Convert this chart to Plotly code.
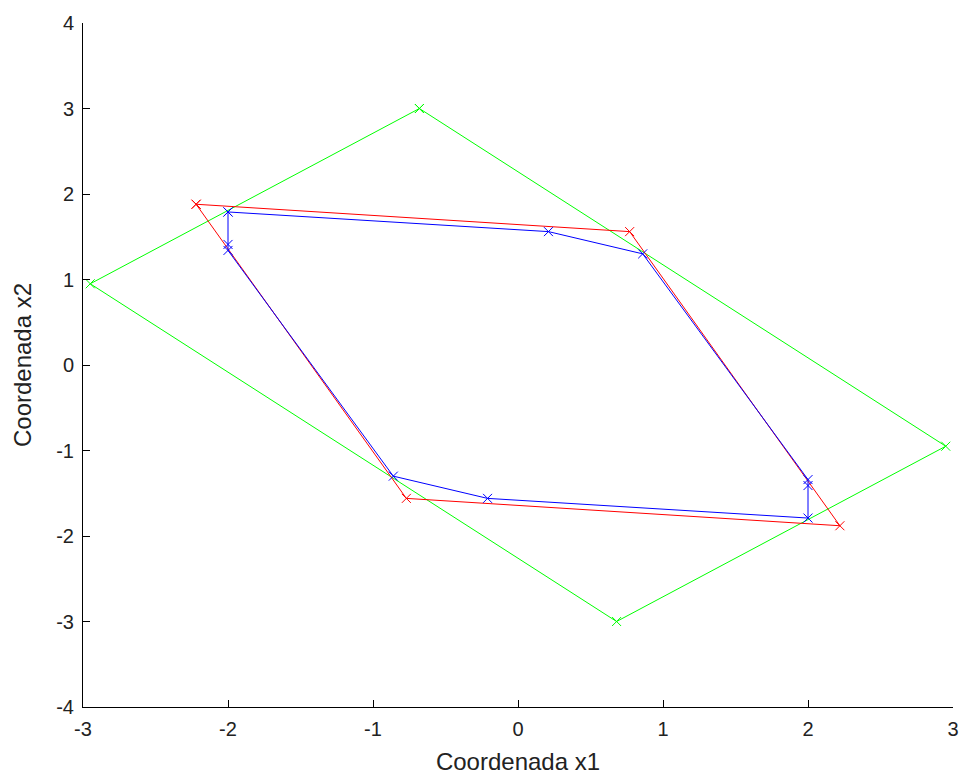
import plotly.graph_objects as go

# Green quadrilateral
green_x = [-0.68, 2.95, 0.68, -2.95, -0.68]
green_y = [3.0, -0.95, -3.0, 0.95, 3.0]

# Red quadrilateral
red_x = [-2.22, 0.77, 2.22, -0.77, -2.22]
red_y = [1.88, 1.56, -1.88, -1.56, 1.88]

# Blue polygon
blue_x = [-2.0, 0.21, 0.86, 2.0, 2.0, 2.0, -0.21, -0.86, -2.0, -2.0, -2.0]
blue_y = [1.79, 1.56, 1.30, -1.34, -1.41, -1.79, -1.56, -1.30, 1.34, 1.41, 1.79]

x_ticks = [-3, -2, -1, 0, 1, 2, 3]
y_ticks = [-4, -3, -2, -1, 0, 1, 2, 3, 4]

fig = go.Figure()

def add(xs, ys, color):
    fig.add_trace(go.Scatter(
        x=xs, y=ys, mode="lines+markers",
        line=dict(color=color, width=1),
        marker=dict(symbol="x-thin", size=9, line=dict(color=color, width=1), color=color),
        showlegend=False, hoverinfo="skip",
    ))

add(green_x, green_y, "#00ff00")
add(red_x, red_y, "#ff0000")
add(blue_x, blue_y, "#0000ff")

FONT = "Liberation Sans, Arial, sans-serif"
axis_common = dict(
    showgrid=False, zeroline=False, showline=True, linecolor="black", linewidth=1,
    ticks="inside", ticklen=7, tickcolor="black", tickwidth=1, mirror=False,
    automargin=False,
    tickfont=dict(family=FONT, size=20, color="#222222"),
    title_font=dict(family=FONT, size=24, color="#222222"),
)

fig.update_layout(
    width=962, height=778,
    margin=dict(l=83, r=9, t=23, b=71),
    paper_bgcolor="white", plot_bgcolor="white",
    xaxis=dict(range=[-3, 3], tickvals=x_ticks, ticktext=[str(v) for v in x_ticks],
               title=dict(text="Coordenada x1", standoff=14), ticklabelstandoff=4, **axis_common),
    yaxis=dict(range=[-4, 4], tickvals=y_ticks, ticktext=[str(v) for v in y_ticks],
               title=dict(text="Coordenada x2", standoff=17), ticklabelstandoff=4, **axis_common),
)

fig.write_html(
    "out.html",
    config={"displayModeBar": False},
    post_script="document.body.style.margin='0';document.body.style.overflow='hidden';",
)
